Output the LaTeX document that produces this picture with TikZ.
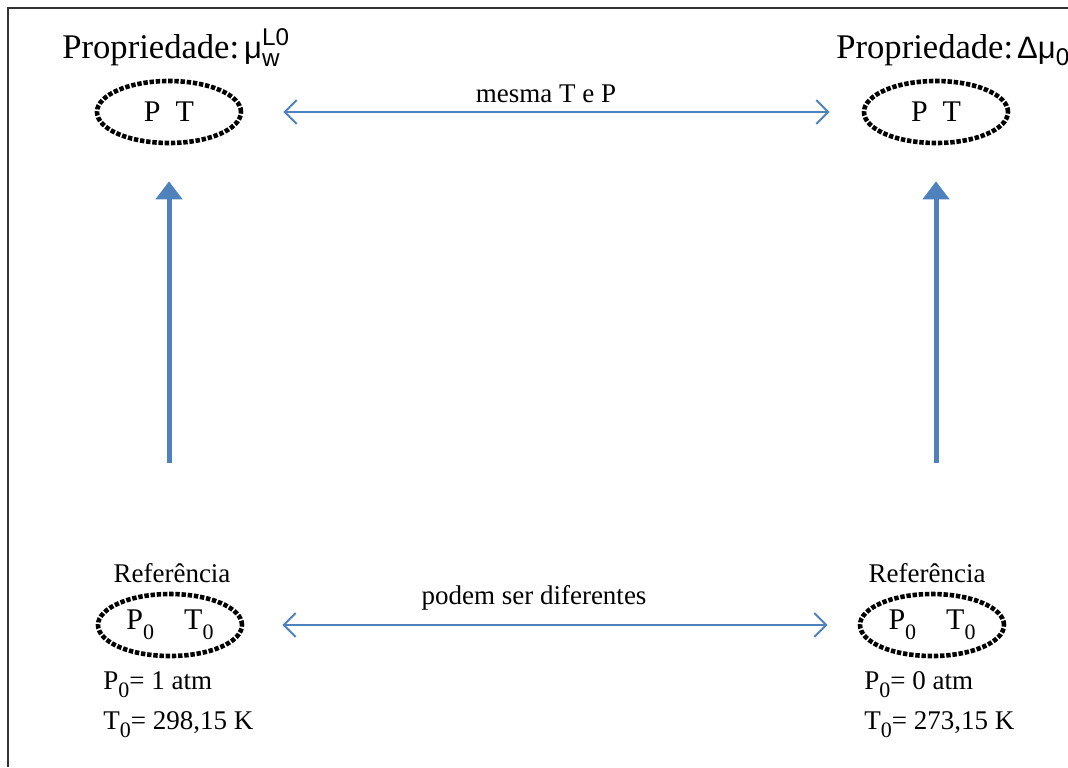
\documentclass[tikz,border=0pt]{standalone}
\usepackage{amsmath}
\usepackage{fontspec}
\setmainfont{Liberation Serif}
\setsansfont{Liberation Sans}
\usetikzlibrary{shapes.geometric,arrows.meta}

\definecolor{setaazul}{RGB}{79,129,189}
\newcommand{\ix}[1]{\raisebox{-0.7ex}{\fontsize{11}{12}\selectfont #1}}
\newcommand{\simb}[1]{\text{\fontsize{15.5}{18}\selectfont\sffamily #1}}

\begin{document}
\begin{tikzpicture}[x=0.5pt,y=-0.5pt,
	estado/.style={ellipse,draw=black,line width=2.3pt,dash pattern=on 2.2pt off 0.9pt,
		minimum width=72pt,minimum height=31pt,inner sep=0pt,font=\fontsize{15}{17}\selectfont},
	texto/.style={inner sep=0pt,font=\fontsize{13.5}{15}\selectfont},
	titulo/.style={inner sep=0pt,font=\fontsize{17.3}{20}\selectfont},
	liga/.style={draw=setaazul,line width=1pt,
		{Straight Barb[length=6pt,width=12pt]}-{Straight Barb[length=6pt,width=12pt]}},
	sobe/.style={draw=setaazul,line width=2.5pt,-{Triangle[length=9pt,width=13pt]}}]
	
	\useasboundingbox (0,0) rectangle (1068,767);
	\draw [line width=1pt,black!80](1068,8)--(8,8)--(8,767);
	
	% titulos
	\node (propL) at (62,58)[titulo,anchor=base west]{Propriedade:\hspace{2.5pt}$\simb{μ}_{\text{\sffamily w}}^{\text{\sffamily L0}}$};
	\node (propR) at (836,58)[titulo,anchor=base west]{Propriedade:\hspace{2pt}$\simb{Δμ}_{\text{\sffamily 0}}$};
	
	% estados
	\node (topL) at (169,112)[estado]{P\enspace T};
	\node (topR) at (936,112)[estado]{P\enspace T};
	\node (botL) at (170,625)[estado]{P\ix{0}\quad T\ix{0}};
	\node (botR) at (932,625)[estado]{P\ix{0}\quad T\ix{0}};
	
	\node (refL) at (172,582)[texto,anchor=base]{Referência};
	\node (refR) at (927,582)[texto,anchor=base]{Referência};
	\node (p0L) at (103,689)[texto,anchor=base west]{P\ix{0}= 1 atm};
	\node (t0L) at (103,729)[texto,anchor=base west]{T\ix{0}= 298,15 K};
	\node (p0R) at (864,689)[texto,anchor=base west]{P\ix{0}= 0 atm};
	\node (t0R) at (864,729)[texto,anchor=base west]{T\ix{0}= 273,15 K};
	
	\node (mesma) at (546,102)[texto,anchor=base]{mesma T e P};
	\node (podem) at (534,604)[texto,anchor=base]{podem ser diferentes};
	
	% setas
	\draw [liga,shorten <=20pt,shorten >=16pt](topL)--(topR);
	\draw [liga,shorten <=19pt,shorten >=15pt](botL)--(botR);
	\draw [sobe,shorten <=50pt,shorten >=18pt](topL.south |- refL.north)--(topL.south);
	\draw [sobe,shorten <=50pt,shorten >=18pt](topR.south |- refR.north)--(topR.south);
	
\end{tikzpicture}
\end{document}
